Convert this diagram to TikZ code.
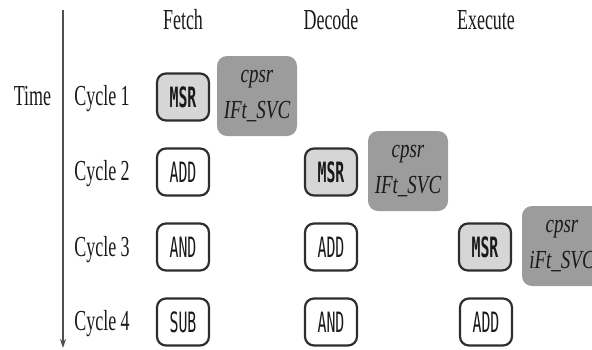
\documentclass[tikz,border=0pt]{standalone}
\usepackage{fontspec}
\usetikzlibrary{arrows.meta}
\setmainfont{Liberation Serif}
\newfontfamily\serc[FakeStretch=0.62]{Liberation Serif}
\newfontfamily\itc[FakeStretch=0.73]{Liberation Serif Italic}
\newfontfamily\monoc[FakeStretch=0.53]{DejaVu Sans Mono}
\newfontfamily\monocb[FakeStretch=0.53]{DejaVu Sans Mono Bold}
\definecolor{txt}{HTML}{1A1A1A}
\definecolor{bord}{HTML}{2E2E2E}
\definecolor{msrfill}{HTML}{D6D6D6}
\definecolor{regfill}{HTML}{9C9C9C}
\definecolor{axis}{HTML}{505050}
\tikzset{
  lbl/.style={font=\serc\fontsize{29}{30}\selectfont, text=txt, anchor=base, inner sep=0pt},
  instr/.style={draw=bord, line width=2.2pt, rounded corners=9pt, fill=white,
     minimum width=52pt, minimum height=47pt, inner sep=0pt, text=txt,
     font=\monoc\fontsize{28}{28}\selectfont},
  msr/.style={instr, fill=msrfill, font=\monocb\fontsize{28}{28}\selectfont},
  regbox/.style={fill=regfill, rounded corners=10pt, minimum width=80pt, minimum height=80pt,
     inner sep=0pt, align=center, text=txt,
     font=\itc\fontsize{26}{36}\selectfont}
}
\begin{document}
\begin{tikzpicture}[x=1pt,y=-1pt]
\useasboundingbox (0,0) rectangle (592,349);
\clip (0,0) rectangle (592,349);
% time axis
\coordinate (tTop) at (63,10);
\coordinate (tBot) at (63,348);
\draw[axis, line width=1.6pt, -{Stealth[length=9pt,width=6pt]}] (tTop) -- (tBot);
\node[lbl] (time) at (32.5,105) {Time};
% headers
\node[lbl] (hF) at (183,29) {Fetch};
\node[lbl] (hD) at (331,29) {Decode};
\node[lbl] (hE) at (486,29) {Execute};
% cycles
\node[lbl] (c1) at (102,105) {Cycle 1};
\node[lbl] (c2) at (102,180) {Cycle 2};
\node[lbl] (c3) at (102,256) {Cycle 3};
\node[lbl] (c4) at (102,330) {Cycle 4};
% row 1
\node[msr] (f1) at (183,97) {MSR};
\node[regbox] (r1) at (257,96) {cpsr\\IFt\_SVC};
% row 2
\node[instr] (f2) at (183,172) {ADD};
\node[msr] (d2) at (331,172) {MSR};
\node[regbox] (r2) at (408,171) {cpsr\\IFt\_SVC};
% row 3
\node[instr] (f3) at (183,247) {AND};
\node[instr] (d3) at (331,247) {ADD};
\node[msr] (e3) at (485,247) {MSR};
\node[regbox] (r3) at (562,246) {cpsr\\iFt\_SVC};
% row 4
\node[instr] (f4) at (183,322) {SUB};
\node[instr] (d4) at (331,322) {AND};
\node[instr] (e4) at (486,322) {ADD};
\end{tikzpicture}
\end{document}
